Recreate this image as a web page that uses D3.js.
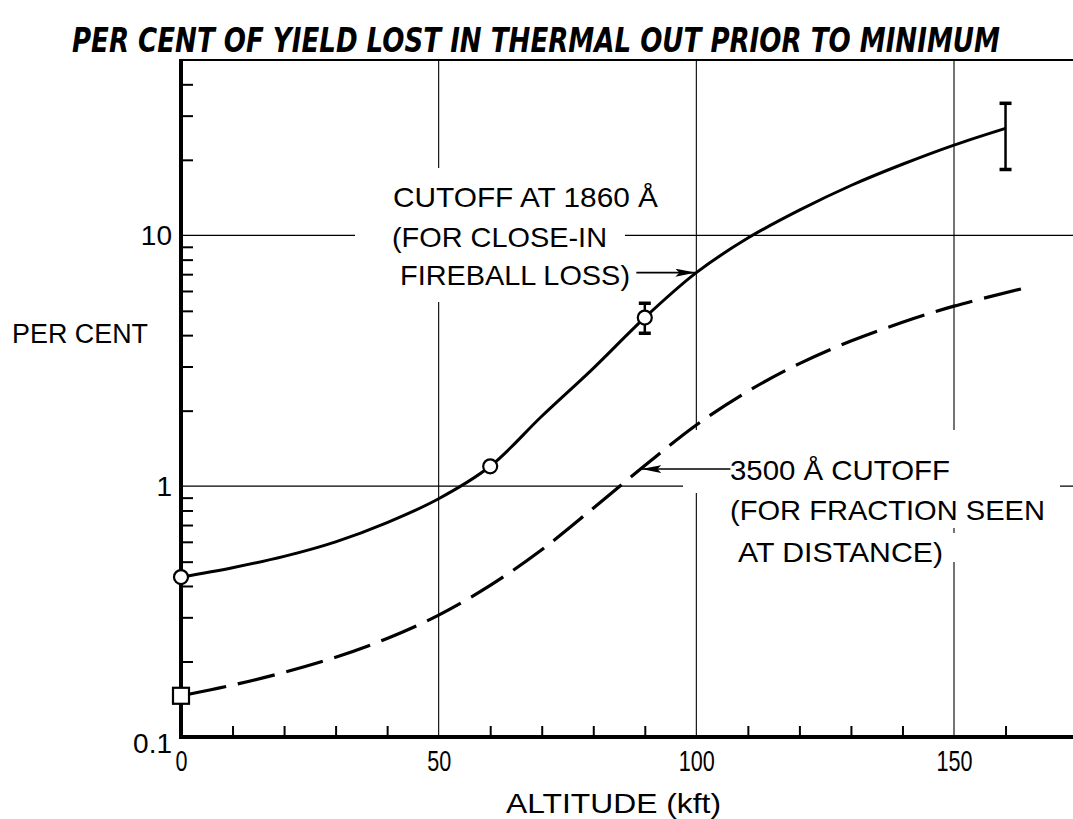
<!DOCTYPE html>
<html>
<head>
<meta charset="utf-8">
<script src="https://cdn.jsdelivr.net/npm/d3@7"></script>
<style>
  html, body { margin: 0; padding: 0; background: #fff; }
  svg { display: block; }
</style>
</head>
<body>
<svg id="chart" width="1073" height="819"></svg>
<script>
// ---------------- data ----------------
const altitudes1860 = [0, 10, 20, 30, 40, 50, 60, 70, 80, 90, 100, 110, 120, 130, 140, 150, 160];
const percent1860   = [0.434, 0.473, 0.525, 0.600, 0.716, 0.891, 1.2, 1.9, 2.95, 4.7, 7.1, 9.75, 12.6, 15.8, 19.2, 22.9, 26.7];

const altitudes3500 = [0, 10, 20, 30, 40, 50, 60, 70, 80, 90, 100, 110, 120, 130, 140, 150, 163.5];
const percent3500   = [0.146, 0.161, 0.181, 0.208, 0.247, 0.306, 0.402, 0.558, 0.817, 1.208, 1.754, 2.39, 3.08, 3.79, 4.5, 5.22, 6.15];

const circleAlt   = [0, 60, 90];
const circleValue = [0.434, 1.2, 4.7];
const squareAlt   = [0];
const squareValue = [0.146];

const errAlt  = [90, 160];
const errLow  = [4.07, 18.3];
const errHigh = [5.36, 33.6];

const xMajorTicks  = [0, 50, 100, 150];
const xMajorLabels = ["0", "50", "100", "150"];
const xMinorTicks  = [10, 20, 30, 40, 60, 70, 80, 90, 110, 120, 130, 140, 160];
const yMajorTicks  = [0.1, 1, 10];
const yMajorLabels = ["0.1", "1", "10"];
const yMinorTicks  = [0.2, 0.3, 0.4, 0.5, 0.6, 0.7, 0.8, 0.9, 2, 3, 4, 5, 6, 7, 8, 9, 20, 30, 40];
const xGridValues  = [50, 100, 150];
const yGridValues  = [1, 10];

const titleText  = "PER CENT OF YIELD LOST IN THERMAL OUT PRIOR TO MINIMUM";
const yAxisTitle = "PER CENT";
const xAxisTitle = "ALTITUDE (kft)";
const note1860 = ["CUTOFF AT 1860 Å", "(FOR CLOSE-IN", "FIREBALL LOSS)"];
const note3500 = ["3500 Å CUTOFF", "(FOR FRACTION SEEN", "AT DISTANCE)"];
const arrow1860Value = 7.1;   // level where the arrow meets the solid curve
const arrow3500Value = 1.17;  // level where the arrow meets the dashed curve

// ---------------- layout ----------------
const svg = d3.select("#chart");
const x0 = 181, pxPerKft = 773 / 150, xMaxDomain = 175;
const x = d3.scaleLinear().domain([0, xMaxDomain]).range([x0, x0 + xMaxDomain * pxPerKft]);
const y = d3.scaleLog().domain([0.1, 50]).range([737, 60]);

const FONT = "'Liberation Sans', Arial, sans-serif";

// gridlines
const grid = svg.append("g").attr("stroke", "#000").attr("stroke-width", 1.1);
grid.selectAll("line.v").data(xGridValues).join("line")
  .attr("x1", d => x(d)).attr("x2", d => x(d))
  .attr("y1", y(0.1)).attr("y2", y(50));
grid.selectAll("line.h").data(yGridValues).join("line")
  .attr("x1", x(0)).attr("x2", x(xMaxDomain))
  .attr("y1", d => y(d)).attr("y2", d => y(d));

// layer for white text knock-outs
const knock = svg.append("g");

// minor ticks
const xMinorAxis = d3.axisBottom(x).tickValues(xMinorTicks).tickSize(-11).tickFormat("");
svg.append("g").attr("transform", `translate(0,${y(0.1)})`).call(xMinorAxis)
  .call(g => g.select(".domain").remove())
  .call(g => g.selectAll("line").attr("stroke-width", 2));
const yMinorAxis = d3.axisLeft(y).tickValues(yMinorTicks).tickSize(-12).tickFormat("");
svg.append("g").attr("transform", `translate(${x(0)},0)`).call(yMinorAxis)
  .call(g => g.select(".domain").remove())
  .call(g => g.selectAll("line").attr("stroke-width", 2));

// major tick labels (narrow lettering)
const xAxis = d3.axisBottom(x).tickValues(xMajorTicks).tickSize(0).tickPadding(13)
  .tickFormat((d, i) => xMajorLabels[i]);
svg.append("g").attr("transform", `translate(0,${y(0.1)})`).call(xAxis)
  .call(g => g.select(".domain").remove())
  .call(g => g.selectAll("text").attr("font-family", FONT).attr("font-size", 29).attr("fill", "#000")
    .attr("textLength", (d, i) => xMajorLabels[i].length * 12).attr("lengthAdjust", "spacingAndGlyphs"));
const yAxis = d3.axisLeft(y).tickValues(yMajorTicks).tickSize(0).tickPadding(9)
  .tickFormat((d, i) => yMajorLabels[i]);
svg.append("g").attr("transform", `translate(${x(0)},0)`).call(yAxis)
  .call(g => g.select(".domain").remove())
  .call(g => g.selectAll("text").attr("font-family", FONT).attr("font-size", 28).attr("fill", "#000"))
  .call(g => g.selectAll(".tick").filter(d => d === 0.1).select("text").attr("dy", "0.55em"));

// frame: thick left and bottom axes, thinner top border
svg.append("line").attr("x1", x(0)).attr("x2", x(0)).attr("y1", y(50) - 1).attr("y2", y(0.1) + 2)
  .attr("stroke", "#000").attr("stroke-width", 4);
svg.append("line").attr("x1", x(0) - 2).attr("x2", x(xMaxDomain)).attr("y1", y(0.1)).attr("y2", y(0.1))
  .attr("stroke", "#000").attr("stroke-width", 4);
svg.append("line").attr("x1", x(0)).attr("x2", x(xMaxDomain)).attr("y1", y(50)).attr("y2", y(50))
  .attr("stroke", "#000").attr("stroke-width", 2);

// curves
const line = d3.line().x(d => x(d[0])).y(d => y(d[1])).curve(d3.curveCatmullRom.alpha(0.5));
const solidPts  = altitudes1860.map((a, i) => [a, percent1860[i]]);
const dashedPts = altitudes3500.map((a, i) => [a, percent3500[i]]);
const solidPath = svg.append("path").attr("d", line(solidPts))
  .attr("fill", "none").attr("stroke", "#000").attr("stroke-width", 3);
const dashedPath = svg.append("path").attr("d", line(dashedPts))
  .attr("fill", "none").attr("stroke", "#000").attr("stroke-width", 3.2)
  .attr("stroke-dasharray", "38 12").attr("stroke-dashoffset", -8);

// error bars
const eb = svg.append("g").attr("stroke", "#000");
errAlt.forEach((a, i) => {
  eb.append("line").attr("x1", x(a)).attr("x2", x(a)).attr("y1", y(errLow[i])).attr("y2", y(errHigh[i])).attr("stroke-width", 2.5);
  [errLow[i], errHigh[i]].forEach(v => {
    eb.append("line").attr("x1", x(a) - 6).attr("x2", x(a) + 6).attr("y1", y(v)).attr("y2", y(v)).attr("stroke-width", 3.5);
  });
});

// markers
svg.selectAll("circle.m").data(circleAlt).join("circle")
  .attr("cx", d => x(d)).attr("cy", (d, i) => y(circleValue[i])).attr("r", 7)
  .attr("fill", "#fff").attr("stroke", "#000").attr("stroke-width", 2.2);
svg.selectAll("rect.m").data(squareAlt).join("rect")
  .attr("x", d => x(d) - 8).attr("y", (d, i) => y(squareValue[i]) - 8).attr("width", 16).attr("height", 16)
  .attr("fill", "#fff").attr("stroke", "#000").attr("stroke-width", 2.2);

// helper: find x on a path where it crosses a given pixel y
function xAtY(pathNode, py) {
  const L = pathNode.getTotalLength();
  let best = null, bestD = Infinity;
  for (let s = 0; s <= L; s += 0.5) {
    const p = pathNode.getPointAtLength(s);
    const d = Math.abs(p.y - py);
    if (d < bestD) { bestD = d; best = p; }
  }
  return best.x;
}

// arrows
const defs = svg.append("defs");
defs.append("marker").attr("id", "ah").attr("viewBox", "0 0 20 8").attr("refX", 20).attr("refY", 4)
  .attr("markerWidth", 20).attr("markerHeight", 8).attr("markerUnits", "userSpaceOnUse").attr("orient", "auto")
  .append("path").attr("d", "M0,0 L20,4 L0,8 L4,4 Z").attr("fill", "#000");

const a1y = y(arrow1860Value), a1x = xAtY(solidPath.node(), a1y);
svg.append("line").attr("x1", a1x - 60).attr("x2", a1x - 1).attr("y1", a1y).attr("y2", a1y)
  .attr("stroke", "#000").attr("stroke-width", 1.6).attr("marker-end", "url(#ah)");
const a2y = y(arrow3500Value), a2x = xAtY(dashedPath.node(), a2y);
svg.append("line").attr("x1", a2x + 90).attr("x2", a2x + 1).attr("y1", a2y).attr("y2", a2y)
  .attr("stroke", "#000").attr("stroke-width", 1.6).attr("marker-end", "url(#ah)");

// annotation text with knock-out backgrounds
const notes = [
  {t: note1860[0], x: 393, y: 207, w: 265, pad: [37, 14, 4, 6]},
  {t: note1860[1], x: 392, y: 247, w: 215, pad: [37, 4, 18, 4]},
  {t: note1860[2], x: 400, y: 285, w: 230, pad: [37, 4, 4, 11]},
  {t: note3500[0], x: 730, y: 480, w: 220, pad: [47, 25, 15, 7]},
  {t: note3500[1], x: 730, y: 520, w: 315, pad: [20, 12, 15, 2]},
  {t: note3500[2], x: 738, y: 562, w: 205, pad: [20, 4, 15, -6]}
];
const noteG = svg.append("g");
notes.forEach(n => {
  const t = noteG.append("text").attr("x", n.x).attr("y", n.y).text(n.t)
    .attr("font-family", FONT).attr("font-size", 28).attr("fill", "#000")
    .attr("textLength", n.w).attr("lengthAdjust", "spacingAndGlyphs");
  const b = t.node().getBBox();
  knock.append("rect").attr("x", b.x - n.pad[0]).attr("y", b.y - n.pad[1])
    .attr("width", b.width + n.pad[0] + n.pad[2]).attr("height", b.height + n.pad[1] + n.pad[3])
    .attr("fill", "#fff");
});

// titles (tall, narrow hand lettering: small font stretched vertically)
svg.append("g").attr("transform", "translate(72,52) scale(1,1.5)")
  .append("text").attr("x", 0).attr("y", 0).text(titleText)
  .attr("font-family", "'DejaVu Sans', sans-serif")
  .attr("font-style", "italic").attr("font-weight", "bold").attr("font-size", 22).attr("fill", "#000")
  .attr("textLength", 928).attr("lengthAdjust", "spacingAndGlyphs");
svg.append("text").attr("x", 12).attr("y", 343).text(yAxisTitle)
  .attr("font-family", FONT).attr("font-size", 27).attr("fill", "#000")
  .attr("textLength", 136).attr("lengthAdjust", "spacingAndGlyphs");
svg.append("text").attr("x", 506).attr("y", 813).text(xAxisTitle)
  .attr("font-family", FONT).attr("font-size", 28).attr("fill", "#000")
  .attr("textLength", 215).attr("lengthAdjust", "spacingAndGlyphs");
</script>
</body>
</html>
